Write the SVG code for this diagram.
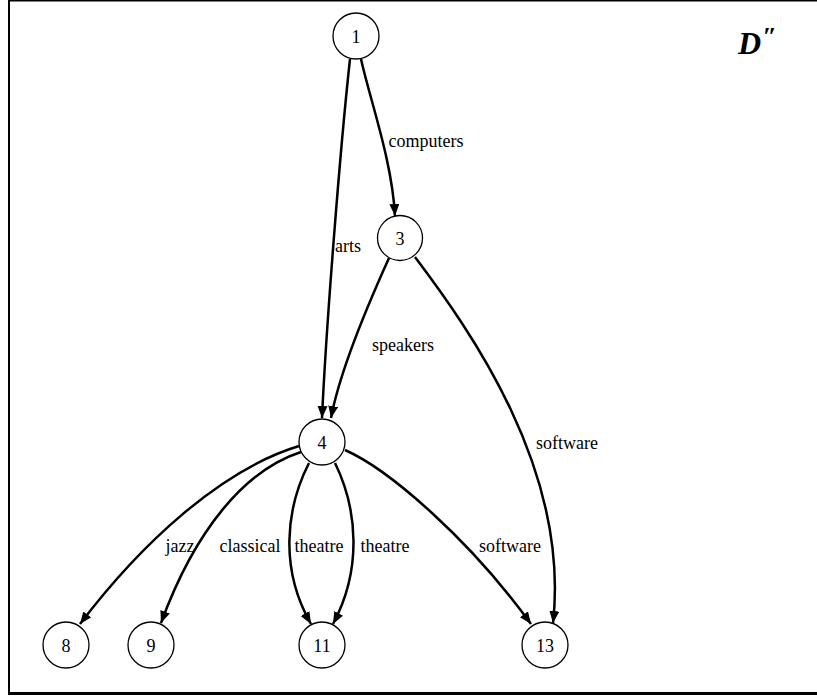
<svg xmlns="http://www.w3.org/2000/svg" width="817" height="696" viewBox="0 0 817 696">
  <style>
    .node circle { fill: #ffffff; stroke: #000000; stroke-width: 1.3; }
    .node text, .lbl { font-family: "Liberation Serif", "Times New Roman", serif; font-size: 18px; fill: #000000; text-anchor: middle; }
    .edge { fill: none; stroke: #000000; stroke-width: 2.5; marker-end: url(#arrow); }
    .frame { stroke: #000000; fill: none; }
  </style>
  <defs>
    <marker id="arrow" markerUnits="userSpaceOnUse" markerWidth="14" markerHeight="11" refX="12" refY="5" orient="auto">
      <path d="M0,0 L12,5 L0,10 z" fill="#000000"/>
    </marker>
  </defs>

  <rect width="817" height="696" fill="#ffffff"/>

  <!-- frame -->
  <line class="frame" x1="9" y1="0" x2="9" y2="694" stroke-width="2"/>
  <line class="frame" x1="8" y1="0.8" x2="817" y2="0.8" stroke-width="1.6"/>
  <line class="frame" x1="8" y1="693.5" x2="817" y2="693.5" stroke-width="3"/>

  <!-- title -->
  <text x="738" y="54" font-family="Liberation Serif, serif" font-size="32" font-weight="bold" font-style="italic">D</text>
  <text x="763" y="45" font-family="Liberation Serif, serif" font-size="26" font-weight="bold" font-style="italic" letter-spacing="-2">′′</text>

  <!-- connectors -->
  <g id="edges">
    <path class="edge" d="M350,59 C340,150 326,330 322,418"/>
    <path class="edge" d="M361,59 C370,100 392,160 395,216"/>
    <path class="edge" d="M389,258 C370,300 340,370 331,418"/>
    <path class="edge" d="M415,257 C470,330 570,470 553,623"/>
    <path class="edge" d="M299,446 C220,470 140,545 80,624"/>
    <path class="edge" d="M301,452 C245,470 195,530 161,623"/>
    <path class="edge" d="M309,463 C285,510 280,570 311,624"/>
    <path class="edge" d="M335,463 C358,510 362,570 333,624"/>
    <path class="edge" d="M345,450 C390,470 470,540 531,624"/>

    <text class="lbl" x="348" y="252">arts</text>
    <text class="lbl" x="426" y="147">computers</text>
    <text class="lbl" x="403" y="351">speakers</text>
    <text class="lbl" x="567" y="449">software</text>
    <text class="lbl" x="180" y="552">jazz</text>
    <text class="lbl" x="250" y="552">classical</text>
    <text class="lbl" x="319" y="552">theatre</text>
    <text class="lbl" x="385" y="552">theatre</text>
    <text class="lbl" x="510" y="552">software</text>
  </g>

  <!-- nodes -->
  <g id="n1" class="node"><circle cx="356" cy="36" r="23"/><text x="356" y="42.5">1</text></g>
  <g id="n3" class="node"><circle cx="400" cy="238" r="22.5"/><text x="400" y="244.5">3</text></g>
  <g id="n4" class="node"><circle cx="322" cy="442" r="23"/><text x="322" y="448.5">4</text></g>
  <g id="n8" class="node"><circle cx="66" cy="645" r="23"/><text x="66" y="651.5">8</text></g>
  <g id="n9" class="node"><circle cx="151" cy="645" r="23"/><text x="151" y="651.5">9</text></g>
  <g id="n11" class="node"><circle cx="322" cy="645" r="23"/><text x="322" y="651.5">11</text></g>
  <g id="n13" class="node"><circle cx="545" cy="645" r="23"/><text x="545" y="651.5">13</text></g>
</svg>
